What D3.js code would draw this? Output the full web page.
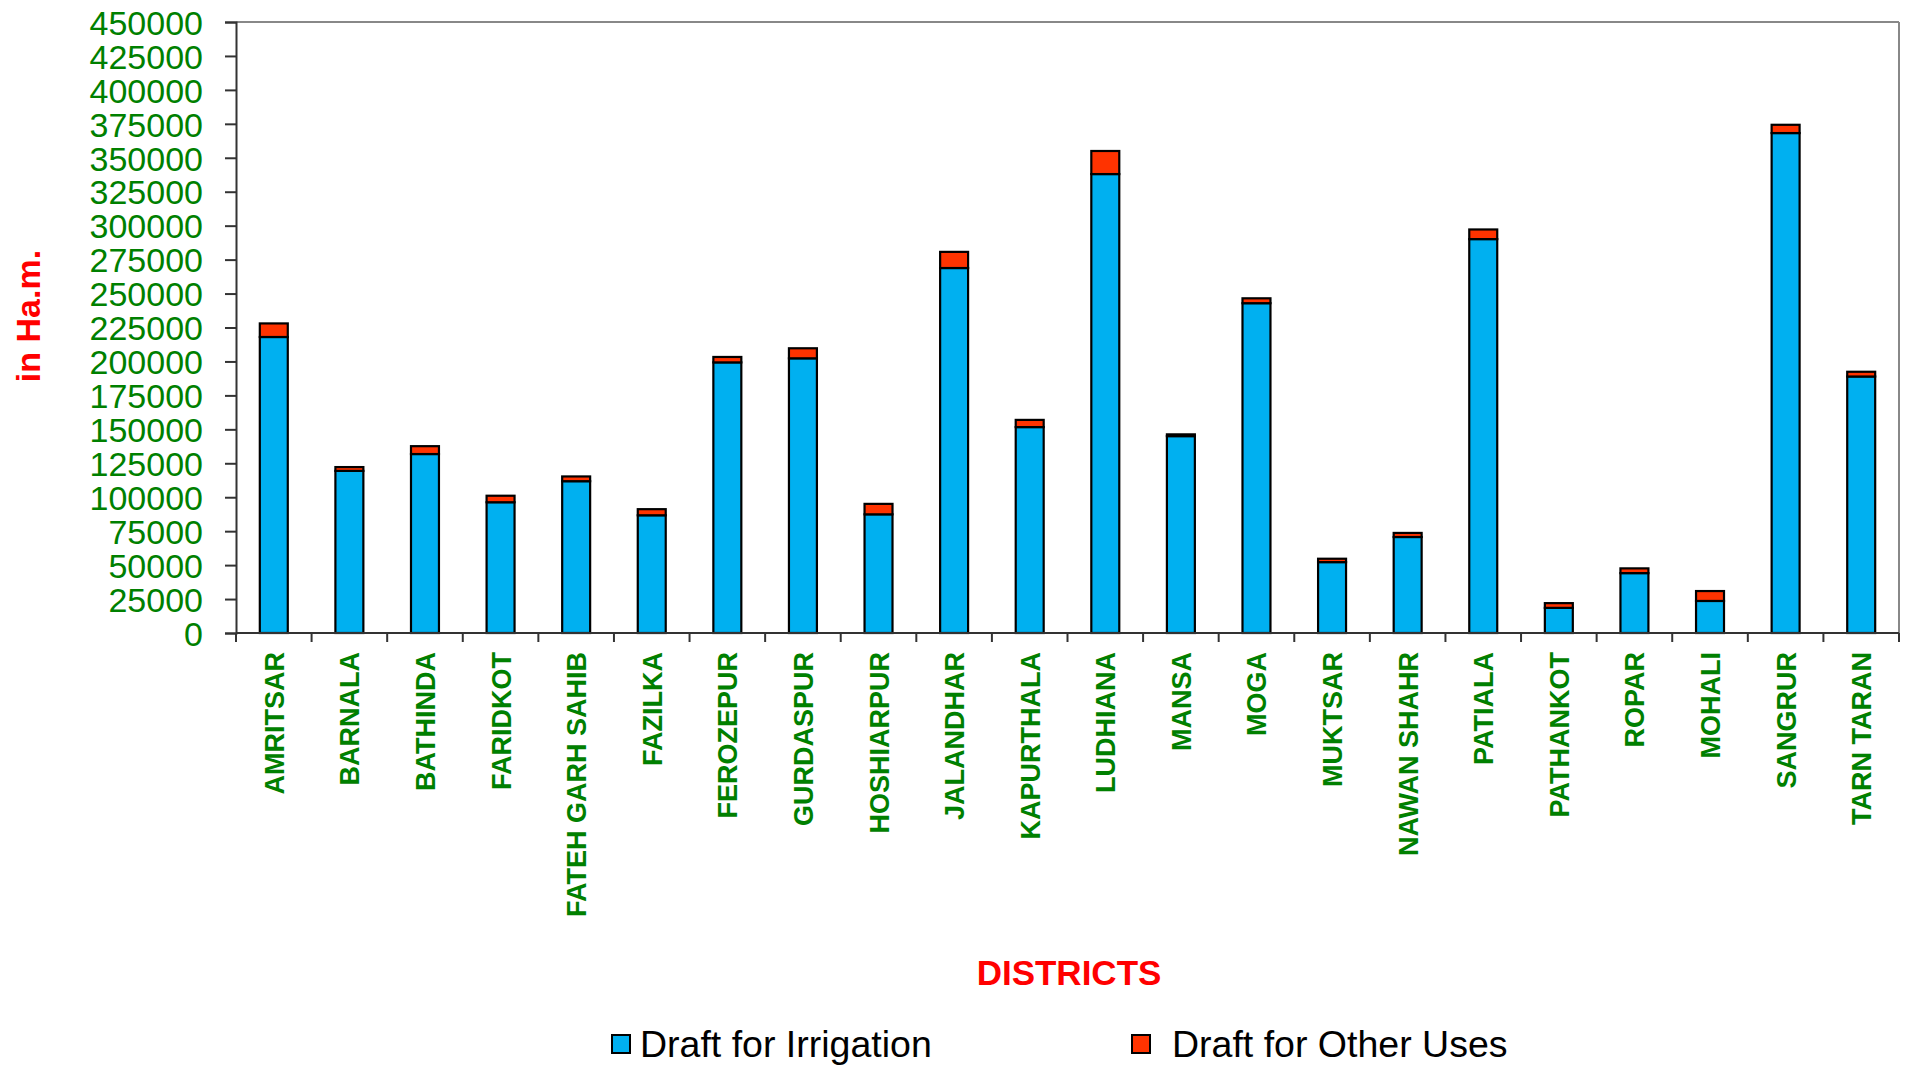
<!DOCTYPE html>
<html><head><meta charset="utf-8">
<script src="https://cdn.jsdelivr.net/npm/d3@7"></script>
<style>
html,body{margin:0;padding:0;background:#fff;}
svg{display:block;font-family:"Liberation Sans",Arial,sans-serif;}
</style></head>
<body>
<svg id="chart" width="1905" height="1066"></svg>
<script>
const districts = ["AMRITSAR","BARNALA","BATHINDA","FARIDKOT","FATEH GARH SAHIB","FAZILKA","FEROZEPUR","GURDASPUR","HOSHIARPUR","JALANDHAR","KAPURTHALA","LUDHIANA","MANSA","MOGA","MUKTSAR","NAWAN SHAHR","PATIALA","PATHANKOT","ROPAR","MOHALI","SANGRUR","TARN TARAN"];
const irrigation = [218000,119400,131800,96300,111800,86700,199300,202300,87400,268800,151650,338000,145000,242900,52200,70700,290100,18500,44100,23600,368200,188900];
const otherUses = [10000,2800,5800,4800,3500,4500,4000,7400,7700,11900,5300,17000,1300,3600,2500,3000,7100,3500,3500,7300,6100,3500];
const seriesNames = ["Draft for Irrigation","Draft for Other Uses"];
const yTicks = [0,25000,50000,75000,100000,125000,150000,175000,200000,225000,250000,275000,300000,325000,350000,375000,400000,425000,450000];

(function(){
const colors = ["#00B0F0","#FF3300"];
const pLeft = 236, pRight = 1899, pTop = 22, pBottom = 633;
const svg = d3.select("#chart");

const x = d3.scaleBand().domain(districts).range([pLeft, pRight]).paddingInner(0.63).paddingOuter(0.315);
const y = d3.scaleLinear().domain([0,450000]).range([pBottom, pTop]);

// frame (top and right)
svg.append("line").attr("x1",pLeft).attr("x2",pRight).attr("y1",pTop).attr("y2",pTop).attr("stroke","#888").attr("stroke-width",2);
svg.append("line").attr("x1",pRight).attr("x2",pRight).attr("y1",pTop).attr("y2",pBottom).attr("stroke","#888").attr("stroke-width",2);

const rows = districts.map((d,i)=>({district:d, irr:irrigation[i], oth:otherUses[i]}));
const stack = d3.stack().keys(["irr","oth"])(rows);

const g = svg.append("g");
stack.forEach((layer,li)=>{
  g.selectAll(null).data(layer).join("rect")
    .attr("x", d=>x(d.data.district))
    .attr("width", x.bandwidth())
    .attr("y", d=>y(d[1]))
    .attr("height", d=>y(d[0])-y(d[1]))
    .attr("fill", colors[li])
    .attr("stroke","#000")
    .attr("stroke-width",2.2);
});

// y axis
const yAxis = d3.axisLeft(y).tickValues(yTicks).tickFormat(d3.format("d")).tickSizeOuter(0).tickSize(11).tickPadding(22);
const ya = svg.append("g").attr("transform",`translate(${pLeft},0)`).call(yAxis);
ya.select(".domain").attr("stroke","#333").attr("stroke-width",2);
ya.selectAll(".tick line").attr("stroke","#333").attr("stroke-width",2);
ya.selectAll(".tick text").attr("fill","#008000").style("font-size","34px").style("font-family","Liberation Sans, Arial, sans-serif").attr("dy","0.36em");

// x axis baseline & ticks at band boundaries
svg.append("line").attr("x1",pLeft).attr("x2",pRight).attr("y1",pBottom).attr("y2",pBottom).attr("stroke","#333").attr("stroke-width",2);
const bounds = districts.map(d=>x(d)-x.step()*x.paddingInner()/2);
bounds.push(pRight);
svg.selectAll(null).data(bounds).join("line")
  .attr("x1",d=>d).attr("x2",d=>d).attr("y1",pBottom).attr("y2",pBottom+9)
  .attr("stroke","#333").attr("stroke-width",2);

// x labels
svg.selectAll(null).data(districts).join("text")
  .attr("transform", d=>`translate(${x(d)+x.bandwidth()/2+10},652) rotate(-90)`)
  .attr("text-anchor","end")
  .attr("fill","#008000")
  .style("font-size","27px").style("font-weight","bold")
  .text(d=>d);

// axis titles
svg.append("text").attr("transform","translate(40,316) rotate(-90)").attr("text-anchor","middle")
  .attr("fill","#FF0000").style("font-size","34px").style("font-weight","bold").text("in Ha.m.");
svg.append("text").attr("x",1069).attr("y",985).attr("text-anchor","middle")
  .attr("fill","#FF0000").style("font-size","35px").style("font-weight","bold").text("DISTRICTS");

// legend
const legendPos = [612, 1132];
const legendTextPos = [640, 1172];
seriesNames.forEach((name,i)=>{
  svg.append("rect").attr("x",legendPos[i]).attr("y",1035).attr("width",18).attr("height",18)
    .attr("fill",colors[i]).attr("stroke","#000").attr("stroke-width",2);
  svg.append("text").attr("x",legendTextPos[i]).attr("y",1057).attr("fill","#000")
    .style("font-size","37.5px").text(name);
});
})();
</script>
</body></html>
